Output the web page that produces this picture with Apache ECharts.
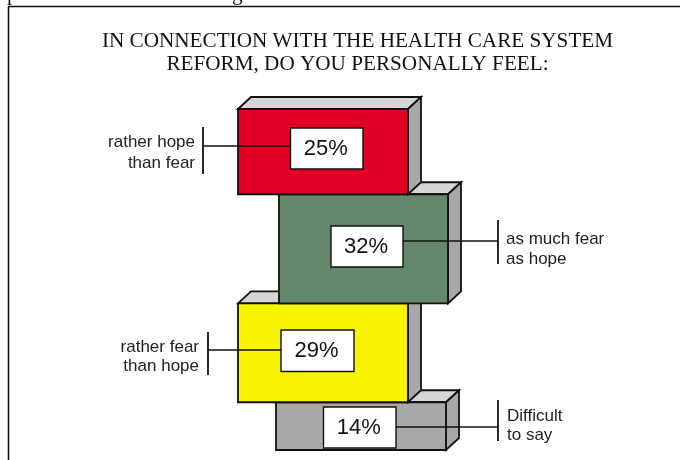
<!DOCTYPE html>
<html>
<head>
<meta charset="utf-8">
<style>html,body{margin:0;padding:0;background:#fff}#c{width:680px;height:460px}</style>
<script src="https://cdn.jsdelivr.net/npm/echarts@6/dist/echarts.min.js"></script>
</head>
<body>
<div id="c"></div>
<script>
var titleText = 'IN CONNECTION WITH THE HEALTH CARE SYSTEM\nREFORM, DO YOU PERSONALLY FEEL:';
var categories = ['rather hope\nthan fear', 'as much fear\nas hope', 'rather fear\nthan hope', 'Difficult\nto say'];
var values = [25, 32, 29, 14];
var colors = ['#e00024', '#65876d', '#f9f400', '#a8a8a8'];

// layout per block, pixels
var layout = [
  { left: 238, width: 170, box: [290.5, 128, 72.5, 41], lead: 146, side: 'l', bx: 203, by: [127, 174], tx: 195, ty: 153, fs: 17, lh: 21 },
  { left: 279, width: 169, box: [331, 226, 72, 41], lead: 241, side: 'r', bx: 498, by: [220, 264], tx: 506, ty: 249, fs: 17, lh: 20 },
  { left: 238, width: 170, box: [281, 330, 73, 41.5], lead: 350, side: 'l', bx: 208, by: [332, 375], tx: 199, ty: 357, fs: 17, lh: 19 },
  { left: 276, width: 170, box: [323.5, 407, 72.5, 41], lead: 427, side: 'r', bx: 498, by: [400, 441], tx: 507, ty: 426, fs: 17, lh: 19 }
];
var DX = 13, DY = 12;

var rows = [], running = 0;
values.forEach(function (v, i) { rows.push([i, running, running + v, v]); running += v; });

function renderItem(params, api) {
  var i = api.value(0), a = api.coord([0, api.value(1)])[1], b = api.coord([0, api.value(2)])[1];
  var L = layout[i], x0 = L.left, x1 = L.left + L.width;
  var base = (4 - i) * 10;
  function poly(pts, fill, z) {
    return { type: 'polygon', z2: base + z, shape: { points: pts }, style: { fill: fill, stroke: '#111', lineWidth: 1.8 } };
  }
  function seg(x1, y1, x2, y2, w) {
    return { type: 'line', z2: 100, shape: { x1: x1, y1: y1, x2: x2, y2: y2 }, style: { stroke: '#111', lineWidth: w, fill: null } };
  }
  var leadX = L.side === 'l' ? L.box[0] : L.box[0] + L.box[2];
  var pct = api.value(3) + '%';
  return {
    type: 'group',
    children: [
      poly([[x0, a], [x0 + DX, a - DY], [x1 + DX, a - DY], [x1, a]], '#d6d6d6', 0),
      poly([[x1, a], [x1 + DX, a - DY], [x1 + DX, b - DY], [x1, b]], '#a8a8a8', 0),
      poly([[x0, a], [x1, a], [x1, b], [x0, b]], colors[i], 1),
      seg(L.bx, L.lead, leadX, L.lead, 1.4),
      seg(L.bx, L.by[0], L.bx, L.by[1], 1.8),
      {
        type: 'rect', z2: 101,
        shape: { x: L.box[0], y: L.box[1], width: L.box[2], height: L.box[3] },
        style: { fill: '#fff', stroke: '#111', lineWidth: 1.4 }
      },
      {
        type: 'text', z2: 102,
        style: {
          x: L.box[0] + L.box[2] / 2 - 1, y: L.box[1] + L.box[3] / 2 + 0.5, text: pct,
          align: 'center', verticalAlign: 'middle',
          font: '22px "Liberation Sans"', fill: '#111'
        }
      },
      {
        type: 'text', z2: 102,
        style: {
          x: L.tx, y: L.ty, text: categories[i],
          align: L.side === 'l' ? 'right' : 'left', verticalAlign: 'middle',
          font: L.fs + 'px "Liberation Sans"', lineHeight: L.lh, fill: '#222'
        }
      }
    ]
  };
}

var chart = echarts.init(document.getElementById('c'), null, { renderer: 'canvas' });
chart.setOption({
  animation: false,
  backgroundColor: '#fff',
  title: {
    text: titleText,
    left: 352.5, top: 25, textAlign: 'center',
    textStyle: { fontFamily: 'Liberation Serif', fontWeight: 'normal', fontSize: 21.2, lineHeight: 23, color: '#111' }
  },
  grid: { left: 0, right: 0, top: 109, height: 341 },
  xAxis: { type: 'value', min: 0, max: 1, show: false },
  yAxis: { type: 'value', min: 0, max: 100, inverse: true, show: false },
  series: [{
    type: 'custom',
    coordinateSystem: 'cartesian2d',
    clip: false,
    encode: { x: 0, y: 1 },
    data: rows,
    renderItem: renderItem
  }],
  graphic: [
    { type: 'line', silent: true, z: -1, shape: { x1: 8.5, y1: 460, x2: 8.5, y2: 6.5 }, style: { stroke: '#111', lineWidth: 1.6 } },
    { type: 'line', silent: true, z: -1, shape: { x1: 8, y1: 6.5, x2: 680, y2: 6.5 }, style: { stroke: '#111', lineWidth: 1.6 } },
    { type: 'text', silent: true, style: { x: 7, y: 4.5, text: 'p', align: 'left', verticalAlign: 'bottom', font: '21px "Liberation Serif"', fill: '#111' } },
    { type: 'text', silent: true, style: { x: 232, y: 4.5, text: 'g', align: 'left', verticalAlign: 'bottom', font: '21px "Liberation Serif"', fill: '#111' } }
  ]
});
</script>
</body>
</html>
